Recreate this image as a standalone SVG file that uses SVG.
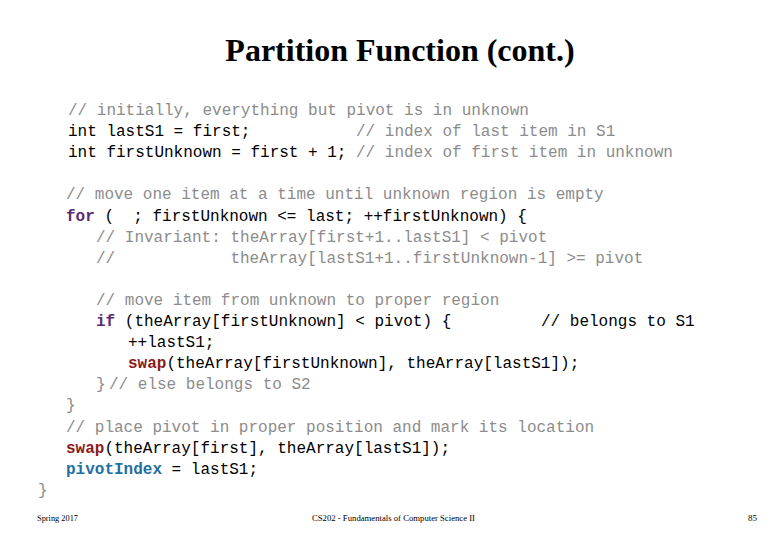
<svg xmlns="http://www.w3.org/2000/svg" width="780" height="540" viewBox="0 0 780 540">
<style>
.title{font-family:"Liberation Serif","Times New Roman",serif;font-weight:bold;font-size:32px;fill:#000}
.code{font-family:"Liberation Mono","Courier New",monospace;font-size:16px;fill:#000}
.cm{fill:#8c8c8c}
.kw{fill:#5b2c73;font-weight:bold}
.fn{fill:#8b1a1a;font-weight:bold}
.var{fill:#1f6fa3;font-weight:bold}
.foot{font-family:"Liberation Serif","Times New Roman",serif;font-size:8.5px;fill:#000}
</style>
<rect width="780" height="540" fill="#fff"/>
<text class="title" x="400" y="61" text-anchor="middle">Partition Function (cont.)</text>
<g id="code" transform="translate(0,1)">
<text class="code" x="68" y="114"><tspan class="cm">// initially, everything but pivot is in unknown</tspan></text>
<text class="code" x="68" y="135.1">int lastS1 = first;<tspan class="cm" x="356">// index of last item in S1</tspan></text>
<text class="code" x="68" y="156.2">int firstUnknown = first + 1;<tspan class="cm" x="356">// index of first item in unknown</tspan></text>
<text class="code" x="66" y="198.4"><tspan class="cm">// move one item at a time until unknown region is empty</tspan></text>
<text class="code" x="66" y="219.5" xml:space="preserve"><tspan class="kw">for</tspan> (  ; firstUnknown &lt;= last; ++firstUnknown) {</text>
<text class="code" x="96" y="240.6"><tspan class="cm">// Invariant: theArray[first+1..lastS1] &lt; pivot</tspan></text>
<text class="code" x="96" y="261.7"><tspan class="cm">//<tspan x="230.4">theArray[lastS1+1..firstUnknown-1] &gt;= pivot</tspan></tspan></text>
<text class="code" x="96" y="303.9"><tspan class="cm">// move item from unknown to proper region</tspan></text>
<text class="code" x="96" y="325"><tspan class="kw">if</tspan> (theArray[firstUnknown] &lt; pivot) {<tspan x="541">// belongs to S1</tspan></text>
<text class="code" x="128" y="346.1">++lastS1;</text>
<text class="code" x="128" y="367.2"><tspan class="fn">swap</tspan>(theArray[firstUnknown], theArray[lastS1]);</text>
<text class="code" x="96" y="388.3"><tspan class="cm">}<tspan x="109">// else belongs to S2</tspan></tspan></text>
<text class="code" x="66" y="409.4"><tspan class="cm">}</tspan></text>
<text class="code" x="66" y="430.5"><tspan class="cm">// place pivot in proper position and mark its location</tspan></text>
<text class="code" x="66" y="451.6"><tspan class="fn">swap</tspan>(theArray[first], theArray[lastS1]);</text>
<text class="code" x="66" y="472.7"><tspan class="var">pivotIndex</tspan> = lastS1;</text>
<text class="code" x="38" y="493.8"><tspan class="cm">}</tspan></text>
</g>
<g id="footer">
<text class="foot" x="37" y="521" textLength="41" lengthAdjust="spacingAndGlyphs">Spring 2017</text>
<text class="foot" x="312" y="521" textLength="163" lengthAdjust="spacingAndGlyphs">CS202 - Fundamentals of Computer Science II</text>
<text class="foot" x="748" y="521" textLength="9" lengthAdjust="spacingAndGlyphs">85</text>
</g>
</svg>
